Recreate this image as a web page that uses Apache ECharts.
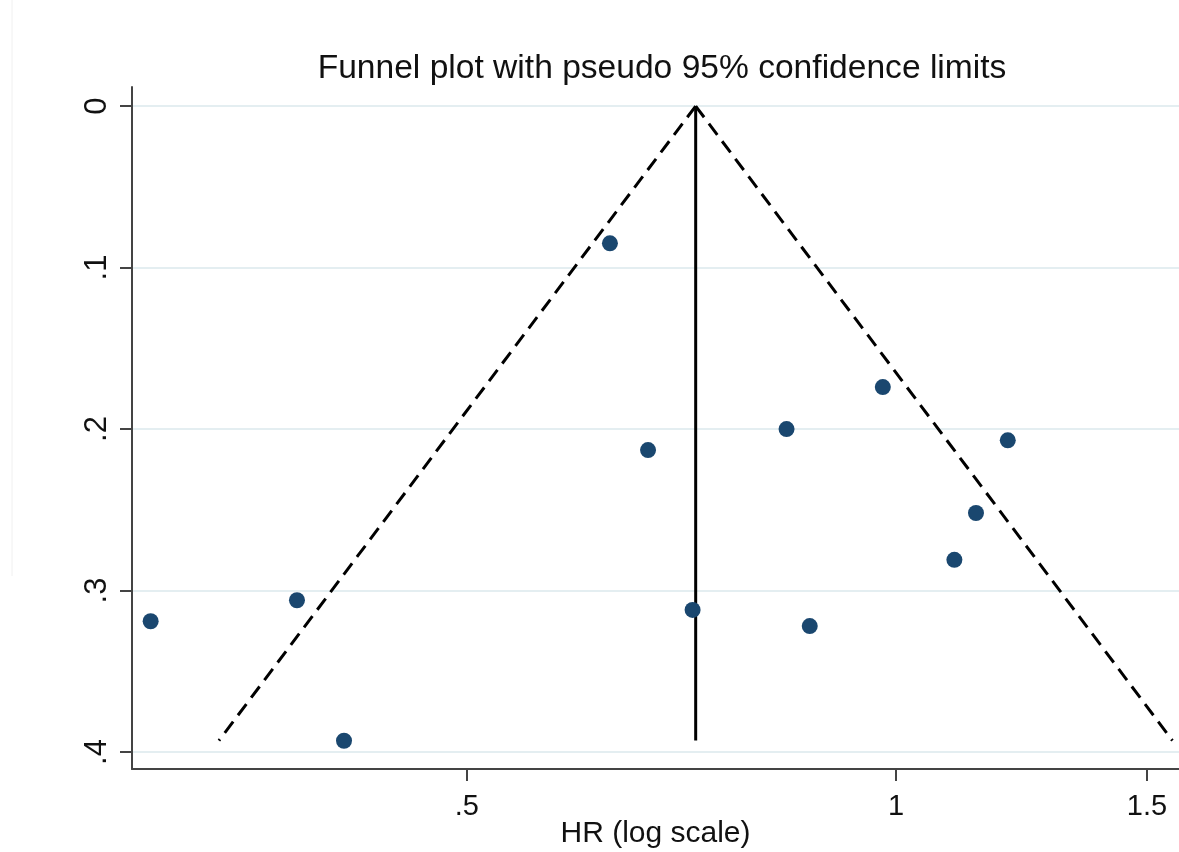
<!DOCTYPE html>
<html>
<head>
<meta charset="utf-8">
<script src="https://cdn.jsdelivr.net/npm/echarts@6/dist/echarts.min.js"></script>
<style>
html,body{margin:0;padding:0;background:#ffffff;}
#chart{width:1179px;height:852px;}
</style>
</head>
<body>
<div id="chart"></div>
<script>
// Study estimates: hazard ratio and its standard error
var hr = [0.300, 0.380, 0.410, 0.630, 0.670, 0.720, 0.838, 0.870, 0.979, 1.099, 1.138, 1.198];
var se = [0.319, 0.306, 0.393, 0.085, 0.213, 0.312, 0.200, 0.322, 0.174, 0.281, 0.252, 0.207];

// Pooled estimate line and pseudo 95% limits (end points)
var pooledLine = [[0.7236, 0], [0.7236, 0.3929]];
var lowerLimit = [[0.7236, 0], [0.335, 0.3929]];
var upperLimit = [[0.7236, 0], [1.563, 0.3929]];

// Axis ranges and tick labels
var xRange = [0.2911, 1.5797];
var yRange = [-0.0118, 0.4105];
var xTickValues = [0.5, 1, 1.5];
var xTickLabels = ['.5', '1', '1.5'];
var yTickValues = [0, 0.1, 0.2, 0.3, 0.4];
var yTickLabels = ['0', '.1', '.2', '.3', '.4'];

function toLog(pts) { return pts.map(function (p) { return [Math.log(p[0]), p[1]]; }); }
var points = hr.map(function (h, i) { return [Math.log(h), se[i]]; });
var xTickLog = xTickValues.map(function (v) { return Math.log(v); });

function nearestLabel(v, vals, labels) {
  var best = 0, bd = Infinity;
  for (var i = 0; i < vals.length; i++) {
    var d = Math.abs(vals[i] - v);
    if (d < bd) { bd = d; best = i; }
  }
  return labels[best];
}

var FONT = 'Liberation Sans, Arial, sans-serif';
var chart = echarts.init(document.getElementById('chart'), null, { renderer: 'canvas' });
chart.setOption({
  backgroundColor: '#ffffff',
  animation: false,
  title: {
    text: 'Funnel plot with pseudo 95% confidence limits',
    left: 657,
    top: 47,
    textAlign: 'center',
    textStyle: { fontFamily: FONT, fontSize: 33.6, fontWeight: 'normal', color: '#111111' }
  },
  graphic: [{
    type: 'line',
    shape: { x1: 12, y1: 0, x2: 12, y2: 576 },
    style: { stroke: '#f0f0f0', lineWidth: 1 },
    silent: true
  }],
  grid: { left: 132, right: 0, top: 87, bottom: 83, containLabel: false, outerBoundsMode: 'none' },
  xAxis: {
    type: 'value',
    min: Math.log(xRange[0]),
    max: Math.log(xRange[1]),
    name: 'HR (log scale)',
    nameLocation: 'middle',
    nameGap: 50,
    nameMoveOverlap: false,
    nameTextStyle: { fontFamily: FONT, fontSize: 30, color: '#111111' },
    axisLine: { show: true, onZero: false, lineStyle: { color: '#444444', width: 2 } },
    axisTick: { show: true, inside: false, length: 12, customValues: xTickLog, lineStyle: { color: '#444444', width: 2 } },
    axisLabel: {
      show: true, margin: 23, customValues: xTickLog,
      fontFamily: FONT, fontSize: 29, color: '#111111',
      formatter: function (v) { return nearestLabel(v, xTickLog, xTickLabels); }
    },
    splitLine: { show: false }
  },
  yAxis: {
    type: 'value',
    inverse: true,
    min: yRange[0],
    max: yRange[1],
    axisLine: { show: true, onZero: false, lineStyle: { color: '#444444', width: 2 } },
    axisTick: { show: true, inside: false, length: 12, customValues: yTickValues, lineStyle: { color: '#444444', width: 2 } },
    axisLabel: {
      show: true, margin: 19, rotate: 90, customValues: yTickValues,
      fontFamily: FONT, fontSize: 31, color: '#111111',
      formatter: function (v) { return nearestLabel(v, yTickValues, yTickLabels); }
    },
    splitLine: { show: true, lineStyle: { color: '#e4eef1', width: 2 } }
  },
  series: [
    {
      type: 'line', data: toLog(lowerLimit), symbol: 'none', silent: true,
      lineStyle: { color: '#000000', width: 3, type: [14, 8] }, z: 3
    },
    {
      type: 'line', data: toLog(upperLimit), symbol: 'none', silent: true,
      lineStyle: { color: '#000000', width: 3, type: [14, 8] }, z: 3
    },
    {
      type: 'line', data: toLog(pooledLine), symbol: 'none', silent: true,
      lineStyle: { color: '#000000', width: 3 }, z: 3
    },
    {
      type: 'scatter', data: points, symbol: 'circle', symbolSize: 16,
      itemStyle: { color: '#1a476f', opacity: 1 }, z: 4
    }
  ]
});
</script>
</body>
</html>
